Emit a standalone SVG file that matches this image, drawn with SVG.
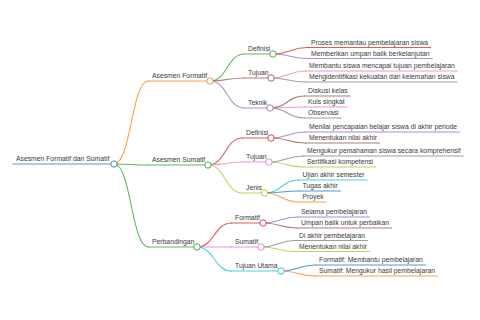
<svg xmlns="http://www.w3.org/2000/svg" width="480" height="320" viewBox="0 0 480 320">
<style>
text{font-family:"Liberation Sans",Arial,sans-serif;font-size:6.8px;fill:#3a3a3a}
path,line{fill:none;stroke-width:1.1;stroke-linecap:round;stroke-opacity:.75}
circle{fill:#fff;stroke-width:1;stroke-opacity:.85}
.b{stroke:#1f77b4}.o{stroke:#ff7f0e}.g{stroke:#2ca02c}.r{stroke:#d62728}.p{stroke:#9467bd}
.br{stroke:#8c564b}.pk{stroke:#e377c2}.gy{stroke:#7f7f7f}.ol{stroke:#bcbd22}.c{stroke:#17becf}
</style>
<rect width="480" height="320" fill="#fff"/>
<g id="connectors">
<path class="o" d="M114,164 C131.25,164 131.25,81 148.5,81"/>
<path class="g" d="M114,164 C131.25,164 131.25,165 148.5,165"/>
<path class="g" d="M114,164 C131.25,164 131.25,247 148.5,247"/>
<path class="g" d="M210,81 C227.25,81 227.25,54 244.5,54"/>
<path class="br" d="M210,81 C227.25,81 227.25,78 244.5,78"/>
<path class="p" d="M210,81 C227.25,81 227.25,108 244.5,108"/>
<path class="r" d="M208,165 C225.25,165 225.25,138 242.5,138"/>
<path class="pk" d="M208,165 C225.25,165 225.25,162 242.5,162"/>
<path class="ol" d="M208,165 C225.25,165 225.25,193 242.5,193"/>
<path class="r" d="M197,247 C214.25,247 214.25,223 231.5,223"/>
<path class="pk" d="M197,247 C214.25,247 214.25,247 231.5,247"/>
<path class="c" d="M197,247 C214.25,247 214.25,271 231.5,271"/>
<path class="r" d="M273,54 C290.25,54 290.25,47.5 307.5,47.5"/>
<path class="p" d="M273,54 C290.25,54 290.25,58.5 307.5,58.5"/>
<path class="pk" d="M271,78 C288.25,78 288.25,71 305.5,71"/>
<path class="gy" d="M271,78 C288.25,78 288.25,82 305.5,82"/>
<path class="br" d="M270,108 C287.25,108 287.25,96 304.5,96"/>
<path class="pk" d="M270,108 C287.25,108 287.25,107 304.5,107"/>
<path class="gy" d="M270,108 C287.25,108 287.25,118 304.5,118"/>
<path class="p" d="M271,138 C288.25,138 288.25,132 305.5,132"/>
<path class="br" d="M271,138 C288.25,138 288.25,143 305.5,143"/>
<path class="gy" d="M269,162 C286.25,162 286.25,156 303.5,156"/>
<path class="ol" d="M269,162 C286.25,162 286.25,167 303.5,167"/>
<path class="c" d="M264.5,193 C281.75,193 281.75,180 299,180"/>
<path class="b" d="M264.5,193 C281.75,193 281.75,191 299,191"/>
<path class="o" d="M264.5,193 C281.75,193 281.75,202 299,202"/>
<path class="p" d="M263,223 C280.25,223 280.25,217 297.5,217"/>
<path class="br" d="M263,223 C280.25,223 280.25,228 297.5,228"/>
<path class="gy" d="M261,247 C278.25,247 278.25,240.5 295.5,240.5"/>
<path class="ol" d="M261,247 C278.25,247 278.25,251.5 295.5,251.5"/>
<path class="b" d="M281,271 C298.25,271 298.25,265 315.5,265"/>
<path class="o" d="M281,271 C298.25,271 298.25,276 315.5,276"/>
</g>
<g id="root"><line class="b" x1="13" y1="164" x2="114" y2="164"/><circle class="b" cx="114" cy="164" r="3.2"/><text x="16" y="161.2">Asesmen Formatif dan Sumatif</text></g>
<g id="formatif"><line class="o" x1="148.5" y1="81" x2="210" y2="81"/><circle class="o" cx="210" cy="81" r="3.2"/><text x="152" y="78.2">Asesmen Formatif</text></g>
<g id="sumatif"><line class="g" x1="148.5" y1="165" x2="208" y2="165"/><circle class="g" cx="208" cy="165" r="3.2"/><text x="152" y="162.2">Asesmen Sumatif</text></g>
<g id="perbandingan"><line class="g" x1="148.5" y1="247" x2="197" y2="247"/><circle class="g" cx="197" cy="247" r="3.2"/><text x="152" y="244.2">Perbandingan</text></g>
<g id="f-definisi"><line class="g" x1="244.5" y1="54" x2="273" y2="54"/><circle class="g" cx="273" cy="54" r="3.2"/><text x="248" y="51.2">Definisi</text></g>
<g id="f-tujuan"><line class="br" x1="244.5" y1="78" x2="271" y2="78"/><circle class="br" cx="271" cy="78" r="3.2"/><text x="248" y="75.2">Tujuan</text></g>
<g id="f-teknik"><line class="p" x1="244.5" y1="108" x2="270" y2="108"/><circle class="p" cx="270" cy="108" r="3.2"/><text x="248" y="105.2">Teknik</text></g>
<g id="s-definisi"><line class="r" x1="242.5" y1="138" x2="271" y2="138"/><circle class="r" cx="271" cy="138" r="3.2"/><text x="246" y="135.2">Definisi</text></g>
<g id="s-tujuan"><line class="pk" x1="242.5" y1="162" x2="269" y2="162"/><circle class="pk" cx="269" cy="162" r="3.2"/><text x="246" y="159.2">Tujuan</text></g>
<g id="s-jenis"><line class="ol" x1="242.5" y1="193" x2="264.5" y2="193"/><circle class="ol" cx="264.5" cy="193" r="3.2"/><text x="246" y="190.2">Jenis</text></g>
<g id="p-formatif"><line class="r" x1="231.5" y1="223" x2="263" y2="223"/><circle class="r" cx="263" cy="223" r="3.2"/><text x="235" y="220.2">Formatif</text></g>
<g id="p-sumatif"><line class="pk" x1="231.5" y1="247" x2="261" y2="247"/><circle class="pk" cx="261" cy="247" r="3.2"/><text x="235" y="244.2">Sumatif</text></g>
<g id="p-tujuan-utama"><line class="c" x1="231.5" y1="271" x2="281" y2="271"/><circle class="c" cx="281" cy="271" r="3.2"/><text x="235" y="268.2">Tujuan Utama</text></g>
<g id="l1"><line class="r" x1="307.5" y1="47.5" x2="430.7" y2="47.5"/><text x="311" y="44.7">Proses memantau pembelajaran siswa</text></g>
<g id="l2"><line class="p" x1="307.5" y1="58.5" x2="432.2" y2="58.5"/><text x="311" y="55.7">Memberikan umpan balik berkelanjutan</text></g>
<g id="l3"><line class="pk" x1="305.5" y1="71" x2="457.4" y2="71"/><text x="309" y="68.2">Membantu siswa mencapai tujuan pembelajaran</text></g>
<g id="l4"><line class="gy" x1="305.5" y1="82" x2="457" y2="82"/><text x="309" y="79.2">Mengidentifikasi kekuatan dan kelemahan siswa</text></g>
<g id="l5"><line class="br" x1="304.5" y1="96" x2="350.2" y2="96"/><text x="308" y="93.2">Diskusi kelas</text></g>
<g id="l6"><line class="pk" x1="304.5" y1="107" x2="347.2" y2="107"/><text x="308" y="104.2">Kuis singkat</text></g>
<g id="l7"><line class="gy" x1="304.5" y1="118" x2="341.1" y2="118"/><text x="308" y="115.2">Observasi</text></g>
<g id="l8"><line class="p" x1="305.5" y1="132" x2="459.6" y2="132"/><text x="309" y="129.2">Menilai pencapaian belajar siswa di akhir periode</text></g>
<g id="l9"><line class="br" x1="305.5" y1="143" x2="379.5" y2="143"/><text x="309" y="140.2">Menentukan nilai akhir</text></g>
<g id="l10"><line class="gy" x1="303.5" y1="156" x2="463.3" y2="156"/><text x="307" y="153.2">Mengukur pemahaman siswa secara komprehensif</text></g>
<g id="l11"><line class="ol" x1="303.5" y1="167" x2="375.6" y2="167"/><text x="307" y="164.2">Sertifikasi kompetensi</text></g>
<g id="l12"><line class="c" x1="299" y1="180" x2="367" y2="180"/><text x="302.5" y="177.2">Ujian akhir semester</text></g>
<g id="l13"><line class="b" x1="299" y1="191" x2="340.5" y2="191"/><text x="302.5" y="188.2">Tugas akhir</text></g>
<g id="l14"><line class="o" x1="299" y1="202" x2="326.2" y2="202"/><text x="302.5" y="199.2">Proyek</text></g>
<g id="l15"><line class="p" x1="297.5" y1="217" x2="369.6" y2="217"/><text x="301" y="214.2">Selama pembelajaran</text></g>
<g id="l16"><line class="br" x1="297.5" y1="228" x2="391.6" y2="228"/><text x="301" y="225.2">Umpan balik untuk perbaikan</text></g>
<g id="l17"><line class="gy" x1="295.5" y1="240.5" x2="367.6" y2="240.5"/><text x="299" y="237.7">Di akhir pembelajaran</text></g>
<g id="l18"><line class="ol" x1="295.5" y1="251.5" x2="369.5" y2="251.5"/><text x="299" y="248.7">Menentukan nilai akhir</text></g>
<g id="l19"><line class="b" x1="315.5" y1="265" x2="425.4" y2="265"/><text x="319" y="262.2">Formatif: Membantu pembelajaran</text></g>
<g id="l20"><line class="o" x1="315.5" y1="276" x2="437.5" y2="276"/><text x="319" y="273.2">Sumatif: Mengukur hasil pembelajaran</text></g>
</svg>
